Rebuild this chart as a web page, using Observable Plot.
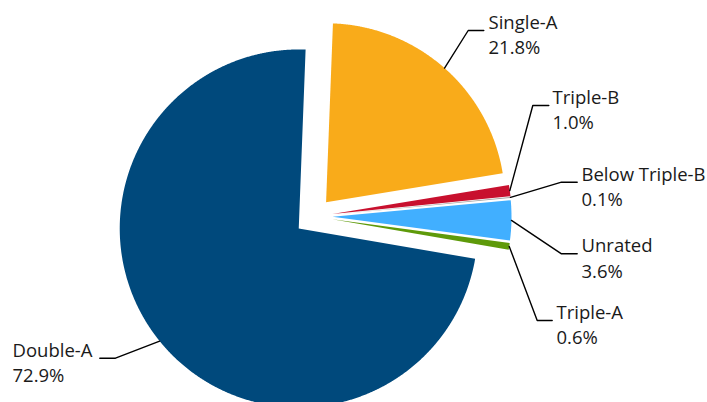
<!DOCTYPE html>
<html><head><meta charset="utf-8">
<script src="https://cdn.jsdelivr.net/npm/d3@7"></script>
<script src="https://cdn.jsdelivr.net/npm/@observablehq/plot@0.6"></script>
<style>html,body{margin:0;padding:0;background:#fff;overflow:hidden}</style>
</head><body><div id="chart"></div>
<script>
// ---- data ----
const categories = ["Single-A", "Triple-B", "Below Triple-B", "Unrated", "Triple-A", "Double-A"];
const shares = [21.8, 1.0, 0.1, 3.6, 0.6, 72.9];
const valueLabels = ["21.8%", "1.0%", "0.1%", "3.6%", "0.6%", "72.9%"];
const colors = ["#F9AB1A", "#C8102E", "#A3A3A3", "#41AFFF", "#5E9A0A", "#00497C"];

// ---- layout ----
const W = 707, H = 402;
const center = [313, 216], radius = 179, explode = 19, startDeg = 2.2;
const labelElbow = [[467.7, 30], [532.3, 105], [561, 181.7], [561, 253.3], [536.7, 320], [115, 357.7]];
const labelEnd = [[483.3, 30], [548.3, 105], [576.7, 181.7], [576.7, 253.3], [551.7, 320], [99.3, 357.7]];
const labelTextX = [488, 552, 581, 581, 556, 12];

const a0 = startDeg * Math.PI / 180;
const arcs = d3.pie().sort(null).startAngle(a0).endAngle(a0 + 2 * Math.PI)(shares);

const slicePts = [];
const leaders = [];
const labels = [];
arcs.forEach((arc, i) => {
  const name = categories[i];
  const mid = (arc.startAngle + arc.endAngle) / 2;
  const vx = center[0] + explode * Math.sin(mid);
  const vy = center[1] - explode * Math.cos(mid);
  slicePts.push({name, x: vx, y: vy});
  const n = Math.max(2, Math.ceil((arc.endAngle - arc.startAngle) / (0.25 * Math.PI / 180)));
  for (let k = 0; k <= n; k++) {
    const a = arc.startAngle + (arc.endAngle - arc.startAngle) * k / n;
    slicePts.push({name, x: vx + radius * Math.sin(a), y: vy - radius * Math.cos(a)});
  }
  slicePts.push({name, x: vx, y: vy});
  const sx = vx + radius * Math.sin(mid), sy = vy - radius * Math.cos(mid);
  leaders.push({name, x: sx, y: sy});
  leaders.push({name, x: labelElbow[i][0], y: labelElbow[i][1]});
  leaders.push({name, x: labelEnd[i][0], y: labelEnd[i][1]});
  labels.push({name, x: labelTextX[i], y: labelEnd[i][1] + 3, text: name + "\n" + valueLabels[i]});
});

const chart = Plot.plot({
  width: W, height: H,
  margin: 0,
  x: {domain: [0, W], range: [0, W], axis: null},
  y: {domain: [0, H], range: [0, H], axis: null},
  color: {domain: categories, range: colors},
  style: {background: "#fff"},
  marks: [
    Plot.line(slicePts, {x: "x", y: "y", z: "name", fill: "name", stroke: "none", curve: "linear"}),
    Plot.line(leaders, {x: "x", y: "y", z: "name", stroke: "#000", strokeWidth: 1.4, curve: "linear"}),
    Plot.text(labels, {x: "x", y: "y", text: "text", textAnchor: "start", lineAnchor: "middle",
      lineHeight: 1.38, fontSize: 18.5, fill: "#1a1a1a", fontFamily: "'Open Sans', sans-serif"})
  ]
});
document.getElementById("chart").appendChild(chart);
</script>
</body></html>
